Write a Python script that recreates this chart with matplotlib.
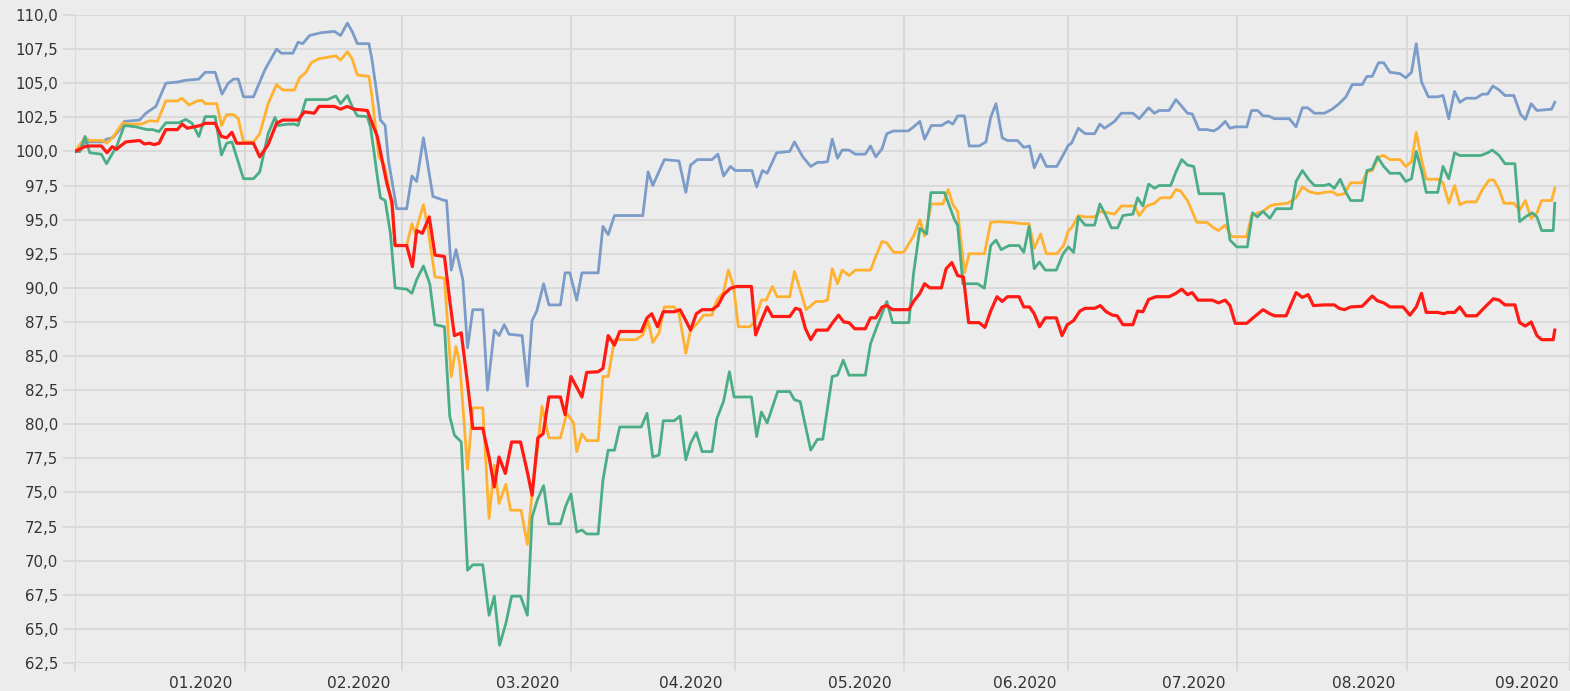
import matplotlib
matplotlib.use("Agg")
import matplotlib.pyplot as plt
from matplotlib.ticker import FuncFormatter

# x = trading-day index counted from the first point (start value = 100)
blue_x = [0, 0.9, 1.9, 5.3, 6.0, 7.2, 8.5, 9.4, 12.3, 13.5, 15.4, 17.3, 19.8, 20.8, 23.6, 24.8, 26.7, 28.0, 29.2, 30.2,
          31.1, 32.1, 34.0, 36.2, 38.4, 39.3, 41.5, 42.5, 43.4, 44.7, 46.9, 49.4, 50.6, 51.9, 52.8, 53.8, 56.0, 56.6,
          57.6, 58.2, 59.1, 59.7, 61.3, 63.2, 64.2, 65.1, 66.4, 68.2, 70.4, 70.8, 71.7, 72.6, 73.9, 74.8, 75.8, 77.7,
          78.6, 79.9, 80.8, 81.8, 82.7, 85.2, 86.2, 87.1, 88.0, 89.3, 90.3, 92.5, 93.4, 94.3, 95.6, 96.6, 99.7, 100.6,
          101.6, 102.8, 108.2, 109.2, 110.1, 112.3, 115.1, 116.4, 117.3, 118.6, 121.4, 122.5, 123.6, 124.9, 125.8,
          129.0, 129.9, 131.0, 131.9, 133.7, 136.2, 137.1, 138.7, 140.2, 141.5, 142.5, 143.4, 144.3, 145.3, 146.2,
          147.5, 148.7, 150.6, 151.6, 152.6, 153.8, 154.7, 156.0, 158.8, 159.8, 161.0, 161.9, 163.2, 165.1, 166.4,
          167.3, 168.2, 169.5, 170.4, 172.3, 173.6, 174.5, 175.5, 176.7, 177.7, 179.6, 180.8, 181.9, 182.8, 184.0,
          185.1, 187.1, 188.4, 189.3, 189.9, 191.2, 192.5, 194.3, 195.3, 196.2, 198.1, 199.4, 201.6, 202.8, 204.6,
          205.7, 206.6, 208.5, 209.8, 210.7, 212.0, 212.9, 214.2, 215.7, 217.0, 217.9, 219.2, 220.1, 221.1, 223.3,
          224.2, 225.4, 226.4, 227.4, 228.6, 231.4, 232.7, 233.9, 234.9, 236.2, 238.1, 239.6, 240.9, 242.2, 243.4,
          245.3, 246.2, 247.2, 248.4, 249.4, 250.6, 252.5, 253.6, 254.7, 255.6, 256.6, 257.9, 259.7, 260.7, 261.8,
          262.9, 263.9, 265.1, 267.0, 268.2, 269.2, 270.2, 271.4, 272.5, 274.2, 275.5, 276.4, 277.5, 278.6, 281.4,
          282.0]
blue_y = [100.0, 100.0, 100.7, 100.7, 100.9, 101.0, 101.6, 102.2, 102.3, 102.8, 103.3, 105.0, 105.1, 105.2, 105.3,
          105.8, 105.8, 104.2, 105.0, 105.3, 105.3, 104.0, 104.0, 106.0, 107.5, 107.2, 107.2, 108.0, 107.9, 108.5,
          108.7, 108.8, 108.5, 109.4, 108.8, 107.9, 107.9, 106.7, 104.0, 102.3, 101.9, 99.4, 95.8, 95.8, 98.2, 97.8,
          101.0, 96.7, 96.4, 96.4, 91.3, 92.8, 90.6, 85.6, 88.4, 88.4, 82.5, 86.9, 86.5, 87.3, 86.6, 86.5, 82.8,
          87.6, 88.3, 90.3, 88.75, 88.75, 91.1, 91.1, 89.1, 91.1, 91.1, 94.5, 93.9, 95.3, 95.3, 98.5, 97.5, 99.4,
          99.3, 97.0, 99.0, 99.4, 99.4, 99.8, 98.2, 98.9, 98.6, 98.6, 97.4, 98.6, 98.4, 99.9, 100.0, 100.7, 99.6,
          98.9, 99.2, 99.2, 99.25, 100.9, 99.5, 100.1, 100.1, 99.8, 99.8, 100.4, 99.6, 100.2, 101.3, 101.5, 101.5,
          101.8, 102.2, 100.9, 101.9, 101.9, 102.2, 102.0, 102.6, 102.6, 100.4, 100.4, 100.7, 102.5, 103.5, 101.0,
          100.8, 100.8, 100.3, 100.4, 98.8, 99.8, 98.9, 98.9, 99.8, 100.45, 100.6, 101.7, 101.3, 101.3, 102.0,
          101.7, 102.2, 102.8, 102.8, 102.4, 103.2, 102.8, 103.0, 103.0, 103.8, 103.4, 102.8, 102.75, 101.6, 101.6,
          101.5, 101.7, 102.2, 101.7, 101.8, 101.8, 103.0, 103.0, 102.6, 102.6, 102.4, 102.4, 101.8, 103.2, 103.2,
          102.8, 102.8, 103.1, 103.5, 104.0, 104.9, 104.9, 105.5, 105.5, 106.5, 106.5, 105.8, 105.7, 105.4, 105.8,
          107.9, 105.1, 104.0, 104.0, 104.1, 102.4, 104.4, 103.6, 103.9, 103.9, 104.2, 104.2, 104.8, 104.5, 104.1,
          104.1, 102.7, 102.35, 103.5, 103.0, 103.1, 103.6]

orange_x = [0, 1.9, 2.8, 5.3, 6.0, 6.6, 7.5, 9.1, 10.1, 12.6, 14.2, 15.7, 17.3, 19.5, 20.4, 21.7, 23.3, 24.2, 24.8,
            27.0, 27.9, 28.9, 30.2, 31.1, 32.1, 34.0, 35.2, 36.8, 38.4, 39.6, 41.8, 42.8, 44.0, 45.0, 46.5, 48.1, 48.7,
            49.7, 50.6, 51.9, 52.8, 53.8, 56.0, 56.6, 57.9, 58.8, 59.4, 60.4, 61.0, 63.2, 64.2, 64.8, 66.4, 67.3, 68.6,
            70.4, 71.7, 72.6, 73.3, 74.8, 75.8, 77.7, 78.9, 79.9, 80.8, 82.1, 83.0, 85.0, 86.2, 87.1, 88.0, 89.0, 90.3,
            92.5, 93.7, 95.0, 95.6, 96.6, 97.5, 99.7, 100.6, 101.6, 102.8, 106.9, 108.2, 109.2, 110.1, 111.3, 112.3,
            114.2, 115.1, 116.4, 117.3, 118.6, 119.8, 121.4, 122.3, 123.6, 124.5, 125.5, 126.4, 128.6, 129.5, 130.8,
            131.7, 132.9, 133.8, 136.2, 137.1, 138.4, 139.3, 141.2, 142.5, 143.4, 144.3, 145.3, 146.2, 147.5, 148.7,
            151.6, 152.8, 153.8, 154.7, 156.0, 157.9, 159.8, 161.0, 161.9, 163.2, 165.4, 166.4, 167.3, 168.2, 169.5,
            170.4, 173.3, 174.5, 175.8, 178.3, 180.5, 181.8, 182.8, 184.0, 185.1, 187.1, 188.4, 189.3, 189.9, 191.2,
            192.5, 194.3, 195.3, 196.9, 198.1, 199.4, 201.9, 202.8, 204.2, 205.7, 206.9, 208.8, 209.8, 210.7, 212.0,
            213.8, 215.7, 217.0, 217.9, 219.2, 220.4, 223.3, 224.2, 225.5, 226.4, 227.7, 228.6, 231.1, 232.7, 233.9,
            235.2, 236.8, 238.1, 239.6, 240.6, 241.9, 243.1, 245.3, 246.2, 247.2, 248.4, 249.4, 250.6, 252.5, 253.6,
            254.7, 255.6, 256.6, 257.5, 259.7, 260.7, 261.8, 262.9, 263.9, 265.1, 267.0, 268.2, 269.5, 270.4, 271.4,
            272.3, 274.2, 275.3, 276.4, 277.5, 278.6, 279.5, 281.4, 282.0]
orange_y = [100.0, 101.0, 100.8, 100.8, 100.6, 100.8, 101.2, 102.1, 102.0, 102.0, 102.25, 102.2, 103.7, 103.7, 103.9,
            103.4, 103.7, 103.75, 103.5, 103.5, 101.9, 102.7, 102.7, 102.4, 100.7, 100.7, 101.3, 103.5, 104.9, 104.5,
            104.5, 105.4, 105.8, 106.5, 106.8, 106.9, 106.95, 107.0, 106.7, 107.3, 106.8, 105.6, 105.5, 104.0, 99.6,
            99.1, 98.15, 95.9, 93.1, 93.1, 94.7, 94.0, 96.1, 94.2, 90.8, 90.7, 83.5, 85.7, 84.5, 76.7, 81.2, 81.2,
            73.1, 77.0, 74.2, 75.6, 73.7, 73.7, 71.2, 75.0, 77.8, 81.3, 79.0, 79.0, 80.8, 80.1, 78.0, 79.3, 78.8,
            78.8, 83.5, 83.5, 86.2, 86.2, 86.55, 87.6, 86.0, 86.7, 88.6, 88.6, 88.1, 85.2, 86.9, 87.4, 88.0, 88.0,
            89.1, 89.7, 91.3, 90.1, 87.15, 87.15, 87.5, 89.1, 89.1, 90.1, 89.35, 89.35, 91.2, 89.6, 88.4, 89.0, 89.0,
            89.1, 91.4, 90.3, 91.3, 90.9, 91.3, 91.3, 92.5, 93.4, 93.3, 92.6, 92.6, 93.8, 95.0, 93.8, 96.15, 96.15,
            97.2, 96.1, 95.6, 91.1, 92.5, 92.5, 94.8, 94.85, 94.8, 94.7, 94.7, 92.9, 93.95, 92.5, 92.5, 93.1, 94.2,
            94.4, 95.3, 95.2, 95.2, 95.6, 95.5, 95.4, 96.0, 96.0, 95.3, 96.0, 96.2, 96.6, 96.6, 97.2, 97.1, 96.4,
            94.8, 94.8, 94.4, 94.2, 94.6, 93.75, 93.75, 95.3, 95.5, 95.6, 96.0, 96.1, 96.2, 96.6, 97.4, 97.05, 96.9,
            97.0, 97.05, 96.8, 96.9, 97.7, 97.7, 98.5, 98.6, 99.6, 99.7, 99.4, 99.4, 98.9, 99.25, 101.4, 99.4, 97.96,
            97.96, 97.7, 96.2, 97.5, 96.1, 96.3, 96.3, 97.2, 97.9, 97.9, 97.2, 96.2, 96.2, 95.7, 96.4, 95.1, 95.5,
            96.4, 96.4, 97.3]

green_x = [0, 0.9, 1.9, 2.8, 5.0, 6.0, 6.9, 7.9, 9.4, 11.6, 12.6, 13.8, 14.8, 16.0, 17.3, 19.8, 21.1, 22.3, 23.6, 24.8,
           26.7, 27.9, 28.9, 29.9, 30.8, 32.1, 34.0, 35.2, 36.8, 38.1, 38.7, 40.6, 41.8, 42.5, 44.0, 48.1, 49.7, 50.6,
           51.9, 52.8, 53.8, 55.7, 56.3, 57.0, 57.6, 58.2, 59.1, 60.1, 61.0, 63.2, 64.2, 65.1, 66.4, 67.6, 68.6, 70.4,
           71.4, 72.3, 73.6, 74.8, 75.8, 77.7, 78.9, 79.9, 80.9, 82.1, 83.2, 84.9, 86.2, 87.1, 88.1, 89.3, 90.3, 92.5,
           93.5, 94.5, 95.6, 96.6, 97.5, 99.7, 100.6, 101.6, 102.8, 103.8, 107.9, 109.0, 110.1, 111.3, 112.1, 114.2,
           115.3, 116.4, 117.3, 118.4, 119.5, 121.4, 122.3, 123.6, 124.7, 125.6, 128.9, 129.9, 130.8, 131.9, 133.9,
           136.2, 137.1, 138.2, 140.2, 141.5, 142.5, 144.3, 145.3, 146.4, 147.5, 150.6, 151.6, 152.8, 154.7, 155.8,
           158.9, 159.8, 161.0, 162.3, 163.1, 165.7, 166.7, 167.6, 168.2, 169.2, 172.0, 173.3, 174.5, 175.5, 176.5,
           178.0, 179.9, 180.8, 181.8, 182.8, 183.8, 184.9, 187.0, 188.3, 189.3, 190.3, 191.2, 192.5, 194.3, 195.3,
           196.2, 197.5, 198.7, 199.7, 201.6, 202.5, 203.5, 204.6, 205.7, 206.6, 208.8, 209.8, 210.9, 212.0, 213.2,
           214.2, 218.9, 219.5, 220.1, 221.4, 223.4, 224.4, 225.3, 226.4, 227.7, 228.9, 231.8, 232.7, 233.9, 235.2,
           236.2, 238.1, 239.0, 240.0, 241.1, 242.2, 243.1, 245.3, 246.2, 247.2, 248.2, 249.4, 250.6, 252.5, 253.6,
           254.7, 255.6, 256.6, 257.5, 259.7, 260.7, 261.8, 262.9, 263.9, 267.9, 269.2, 270.1, 271.4, 272.5, 274.4,
           275.3, 276.4, 277.7, 278.6, 279.5, 281.7, 282.0]
green_y = [100.0, 100.0, 101.1, 99.9, 99.8, 99.1, 99.7, 100.35, 101.9, 101.8, 101.7, 101.6, 101.6, 101.45, 102.1,
           102.1, 102.35, 102.06, 101.1, 102.55, 102.55, 99.74, 100.6, 100.7, 99.6, 98.0, 98.0, 98.5, 101.3, 102.5,
           101.9, 102.0, 102.0, 101.9, 103.8, 103.8, 104.06, 103.5, 104.1, 103.3, 102.6, 102.55, 101.8, 99.9, 98.15,
           96.6, 96.4, 94.0, 90.0, 89.9, 89.6, 90.6, 91.6, 90.3, 87.3, 87.15, 80.6, 79.2, 78.7, 69.3, 69.7, 69.7,
           66.0, 67.4, 63.8, 65.4, 67.4, 67.4, 66.0, 73.2, 74.45, 75.5, 72.7, 72.7, 74.0, 74.9, 72.1, 72.25, 71.96,
           71.96, 75.9, 78.1, 78.1, 79.8, 79.8, 80.8, 77.6, 77.75, 80.26, 80.26, 80.6, 77.4, 78.6, 79.4, 78.0, 78.0,
           80.4, 81.7, 83.85, 82.0, 82.0, 79.1, 80.9, 80.1, 82.4, 82.4, 81.8, 81.66, 78.1, 78.9, 78.9, 83.5, 83.6,
           84.7, 83.6, 83.6, 85.9, 87.15, 89.0, 87.45, 87.45, 91.06, 94.36, 93.95, 96.98, 96.98, 95.95, 95.0, 94.6,
           90.3, 90.3, 89.97, 93.1, 93.5, 92.8, 93.1, 93.1, 92.6, 94.5, 91.4, 91.9, 91.3, 91.3, 92.5, 93.0, 92.6,
           95.2, 94.6, 94.6, 96.15, 95.5, 94.4, 94.4, 95.3, 95.4, 96.6, 96.0, 97.6, 97.3, 97.5, 97.5, 98.5, 99.4,
           99.0, 98.9, 96.9, 96.9, 95.2, 93.5, 93.0, 93.0, 95.5, 95.2, 95.6, 95.1, 95.8, 95.8, 97.8, 98.6, 97.9,
           97.5, 97.5, 97.6, 97.3, 97.96, 97.0, 96.4, 96.4, 98.6, 98.7, 99.6, 98.9, 98.4, 98.4, 97.8, 98.0, 100.0,
           98.6, 97.0, 97.0, 98.9, 98.0, 99.9, 99.7, 99.7, 99.9, 100.1, 99.7, 99.1, 99.1, 94.85, 95.2, 95.5, 95.2,
           94.2, 94.2, 96.2]

red_x = [0, 1.9, 2.8, 5.0, 6.1, 7.1, 7.9, 8.5, 9.7, 12.3, 13.2, 14.2, 15.1, 16.0, 17.3, 19.5, 20.4, 21.4, 22.6, 23.9,
         24.8, 26.7, 27.9, 28.9, 29.9, 30.8, 34.0, 35.2, 36.8, 38.4, 39.6, 42.5, 43.7, 45.6, 46.5, 48.1, 49.4, 50.6,
         51.9, 53.1, 55.7, 57.6, 58.5, 59.4, 60.4, 61.0, 63.2, 64.3, 65.1, 66.2, 67.5, 68.6, 70.4, 71.4, 72.3, 73.6,
         74.8, 75.8, 77.7, 78.9, 79.9, 80.8, 82.0, 83.2, 84.9, 86.2, 87.1, 88.2, 89.2, 90.3, 92.5, 93.4, 94.5, 96.6,
         97.5, 99.7, 100.6, 101.6, 102.8, 103.8, 107.9, 109.0, 109.9, 111.0, 112.1, 114.2, 115.3, 116.4, 117.3,
         118.4, 119.5, 121.4, 122.5, 123.6, 124.9, 126.1, 128.9, 129.7, 130.8, 131.9, 132.9, 136.2, 137.3, 138.2,
         139.2, 140.2, 141.3, 143.4, 144.3, 145.5, 146.5, 147.5, 148.6, 150.6, 151.6, 152.6, 153.8, 154.7, 155.8,
         158.9, 159.8, 161.0, 161.9, 162.9, 165.1, 166.0, 167.1, 168.2, 169.3, 170.3, 172.3, 173.4, 174.5, 175.7,
         176.7, 177.7, 179.9, 180.8, 181.9, 182.8, 183.8, 184.9, 187.0, 188.1, 189.1, 190.3, 191.5, 192.5, 194.3,
         195.4, 196.5, 197.7, 198.6, 199.7, 201.6, 202.5, 203.5, 204.6, 206.0, 208.5, 209.8, 210.9, 212.0, 212.9,
         214.0, 216.7, 217.9, 219.2, 220.1, 221.1, 223.3, 224.5, 226.4, 227.7, 228.6, 230.8, 232.7, 233.9, 235.0,
         236.0, 238.1, 240.0, 240.9, 241.9, 243.1, 245.3, 247.2, 248.2, 249.4, 250.6, 253.1, 254.4, 255.6, 256.6,
         257.5, 259.7, 260.8, 261.6, 262.9, 263.9, 265.1, 267.1, 268.2, 270.3, 271.4, 272.5, 274.4, 275.3, 276.4,
         277.5, 278.6, 279.5, 281.7, 282.0]
red_y = [100.0, 100.35, 100.4, 100.4, 99.9, 100.35, 100.15, 100.35, 100.7, 100.8, 100.55, 100.6, 100.5, 100.6, 101.6,
         101.6, 102.0, 101.7, 101.8, 101.9, 102.06, 102.06, 101.1, 101.0, 101.4, 100.6, 100.6, 99.6, 100.5, 102.06,
         102.3, 102.3, 102.9, 102.8, 103.3, 103.3, 103.3, 103.1, 103.3, 103.1, 103.0, 101.1, 99.4, 97.7, 96.3,
         93.1, 93.1, 91.55, 94.2, 94.0, 95.2, 92.4, 92.3, 89.1, 86.5, 86.7, 83.0, 79.7, 79.7, 77.6, 75.4, 77.6,
         76.4, 78.7, 78.7, 76.5, 74.8, 79.0, 79.3, 82.0, 82.0, 80.7, 83.5, 82.0, 83.8, 83.85, 84.1, 86.5, 85.8,
         86.8, 86.8, 87.8, 88.1, 87.15, 88.25, 88.25, 88.4, 87.6, 86.9, 88.1, 88.4, 88.4, 88.7, 89.5, 89.97, 90.1,
         90.1, 86.55, 87.6, 88.6, 87.9, 87.9, 88.5, 88.4, 87.0, 86.2, 86.9, 86.9, 87.4, 88.0, 87.5, 87.45, 87.0,
         87.0, 87.8, 87.8, 88.6, 88.7, 88.4, 88.4, 89.0, 89.6, 90.3, 90.0, 90.0, 91.4, 91.85, 90.9, 90.8, 87.45,
         87.45, 87.1, 88.3, 89.35, 89.0, 89.35, 89.35, 88.6, 88.6, 88.1, 87.15, 87.8, 87.8, 86.5, 87.3, 87.6,
         88.3, 88.5, 88.5, 88.7, 88.25, 88.0, 87.95, 87.3, 87.3, 88.3, 88.25, 89.15, 89.35, 89.35, 89.6, 89.9,
         89.5, 89.65, 89.1, 89.1, 88.9, 89.1, 88.7, 87.4, 87.4, 87.8, 88.4, 88.1, 87.95, 87.95, 89.65, 89.3, 89.5,
         88.7, 88.75, 88.75, 88.5, 88.4, 88.6, 88.65, 89.4, 89.05, 88.9, 88.6, 88.6, 88.0, 88.6, 89.6, 88.2, 88.2,
         88.1, 88.2, 88.2, 88.6, 87.95, 87.95, 88.4, 89.2, 89.1, 88.75, 88.75, 87.45, 87.2, 87.5, 86.5, 86.2, 86.2,
         86.9]

# month boundaries (trading-day index) and their labels
month_pos = [0, 32.3, 62.3, 94.5, 125.7, 157.9, 189.2, 221.5, 253.8, 284.9]
month_labels = ["01.2020", "02.2020", "03.2020", "04.2020", "05.2020",
                "06.2020", "07.2020", "08.2020", "09.2020"]
y_ticks = [62.5 + 2.5 * i for i in range(20)]

bg = "#ececec"
gridc = "#d8d8d8"
textc = "#333333"

fig = plt.figure(figsize=(15.7, 6.91), dpi=100, facecolor=bg)
ax = fig.add_axes([0.0478, 0.0405, 0.9522, 0.9378], facecolor=bg)

ax.plot(blue_x, blue_y, color="#7b9bc8", lw=2.0, solid_joinstyle="round")
ax.plot(orange_x, orange_y, color="#ffb12f", lw=2.0, solid_joinstyle="round")
ax.plot(green_x, green_y, color="#4bad86", lw=2.0, solid_joinstyle="round")
ax.plot(red_x, red_y, color="#ff1a14", lw=2.3, solid_joinstyle="round")

ax.set_xlim(0, 282.1)
ax.set_ylim(62.5, 110)

ax.set_yticks(y_ticks)
ax.yaxis.set_major_formatter(FuncFormatter(lambda v, p: f"{v:.1f}".replace(".", ",")))
ax.tick_params(axis="y", length=9, width=1.3, color=gridc, labelcolor=textc,
               labelsize=10.8, pad=3)

ax.set_xticks(month_pos)
ax.set_xticklabels([])
ax.set_xticks([p - 8.3 for p in month_pos[1:]], minor=True)
ax.set_xticklabels(month_labels, minor=True)
ax.tick_params(axis="x", which="major", length=6, width=1.3, color=gridc)
ax.tick_params(axis="x", which="minor", length=0, labelcolor=textc, labelsize=11.2, pad=9)

ax.grid(True, which="major", color=gridc, lw=1.3)
ax.set_axisbelow(True)
for s in ax.spines.values():
    s.set_visible(False)

fig.savefig("out.png", dpi=100, facecolor=bg)
